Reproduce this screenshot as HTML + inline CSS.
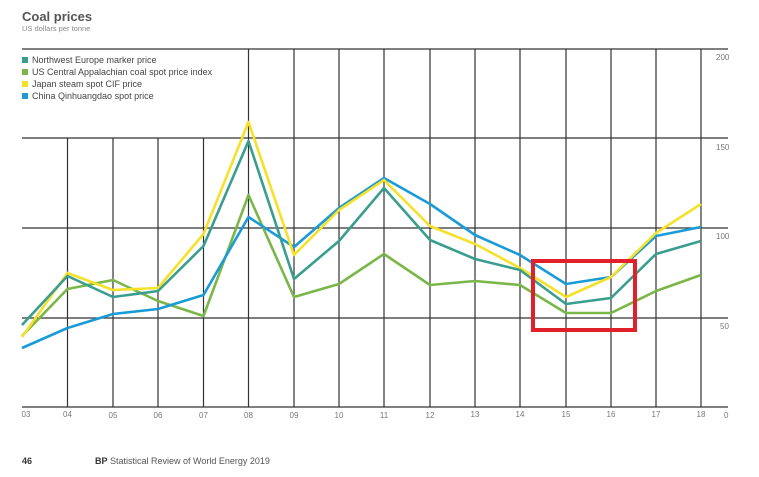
<!DOCTYPE html>
<html><head><meta charset="utf-8"><style>
body{margin:0;background:#fff;width:759px;height:472px;overflow:hidden;font-family:"Liberation Sans",sans-serif}
</style></head><body>
<svg width="759" height="472" xmlns="http://www.w3.org/2000/svg" font-family="Liberation Sans, sans-serif">
<text x="22" y="21" font-size="13" font-weight="bold" fill="#555">Coal prices</text>
<text x="22" y="31" font-size="7.5" fill="#888">US dollars per tonne</text>
<g fill="#444" font-size="9">
<rect x="22" y="57" width="6" height="6" fill="#3a9e8f"/><text x="32" y="63">Northwest Europe marker price</text>
<rect x="22" y="69" width="6" height="6" fill="#7ab648"/><text x="32" y="75">US Central Appalachian coal spot price index</text>
<rect x="22" y="81" width="6" height="6" fill="#f5e12a"/><text x="32" y="87">Japan steam spot CIF price</text>
<rect x="22" y="93" width="6" height="6" fill="#1a9bd7"/><text x="32" y="99">China Qinhuangdao spot price</text>
</g>
<g stroke="#333" stroke-width="1.2">
<line x1="22" y1="49" x2="728" y2="49"/>
<line x1="22" y1="138" x2="728" y2="138"/>
<line x1="22" y1="228" x2="728" y2="228"/>
<line x1="22" y1="318" x2="728" y2="318"/>
<line x1="22" y1="407" x2="728" y2="407"/>
<line x1="67.5" y1="138" x2="67.5" y2="407"/>
<line x1="113" y1="138" x2="113" y2="407"/>
<line x1="158" y1="138" x2="158" y2="407"/>
<line x1="203.5" y1="138" x2="203.5" y2="407"/>
<line x1="248.5" y1="49" x2="248.5" y2="407"/>
<line x1="294" y1="49" x2="294" y2="407"/>
<line x1="339" y1="49" x2="339" y2="407"/>
<line x1="384" y1="49" x2="384" y2="407"/>
<line x1="430" y1="49" x2="430" y2="407"/>
<line x1="475" y1="49" x2="475" y2="407"/>
<line x1="520" y1="49" x2="520" y2="407"/>
<line x1="566" y1="49" x2="566" y2="407"/>
<line x1="611" y1="49" x2="611" y2="407"/>
<line x1="656" y1="49" x2="656" y2="407"/>
<line x1="701" y1="49" x2="701" y2="407"/>
</g>
<g fill="#777" font-size="8">
<text x="716" y="60">200</text><text x="716" y="150">150</text><text x="716" y="239">100</text><text x="720" y="329">50</text><text x="724" y="418">0</text>
<g text-anchor="middle">
<text x="26" y="417">03</text><text x="67.5" y="417">04</text><text x="113" y="418">05</text><text x="158" y="418">06</text><text x="203.5" y="418">07</text><text x="248.5" y="418">08</text><text x="294" y="418">09</text><text x="339" y="418">10</text><text x="384" y="418">11</text><text x="430" y="418">12</text><text x="475" y="417">13</text><text x="520" y="417">14</text><text x="566" y="417">15</text><text x="611" y="417">16</text><text x="656" y="417">17</text><text x="701" y="417">18</text>
</g></g>
<g fill="none" stroke-width="2.6" stroke-linejoin="round">
<polyline stroke="#7ab648" points="22,336 67.5,289 113,280 158,301 203.5,316 248.5,195 294,297 339,284 384,254 430,285 475,281 520,285 566,313 611,313 656,291 701,275"/>
<polyline stroke="#1a9bd7" points="22,348 67.5,328 113,314 158,309 203.5,295 248.5,217 294,247 339,208 384,178 430,204 475,235 520,255 566,284 611,277 656,236 701,227"/>
<polyline stroke="#f5e12a" points="22,337 67.5,273 113,290 158,288 203.5,234 248.5,122 294,255 339,210 384,180 430,226 475,244 520,268 566,297 611,277 656,233 701,204"/>
<polyline stroke="#3a9e8f" points="22,325 67.5,276 113,297 158,291 203.5,246 248.5,141 294,279 339,241 384,188 430,240 475,259 520,270 566,304 611,298 656,254 701,241"/>
</g>
<rect x="533" y="261" width="102" height="69" fill="none" stroke="#e0202a" stroke-width="4"/>
<text x="22" y="464" font-size="9" font-weight="bold" fill="#333">46</text>
<text x="95" y="464" font-size="9" fill="#555"><tspan font-weight="bold" fill="#333">BP</tspan> Statistical Review of World Energy 2019</text>
</svg>
</body></html>
